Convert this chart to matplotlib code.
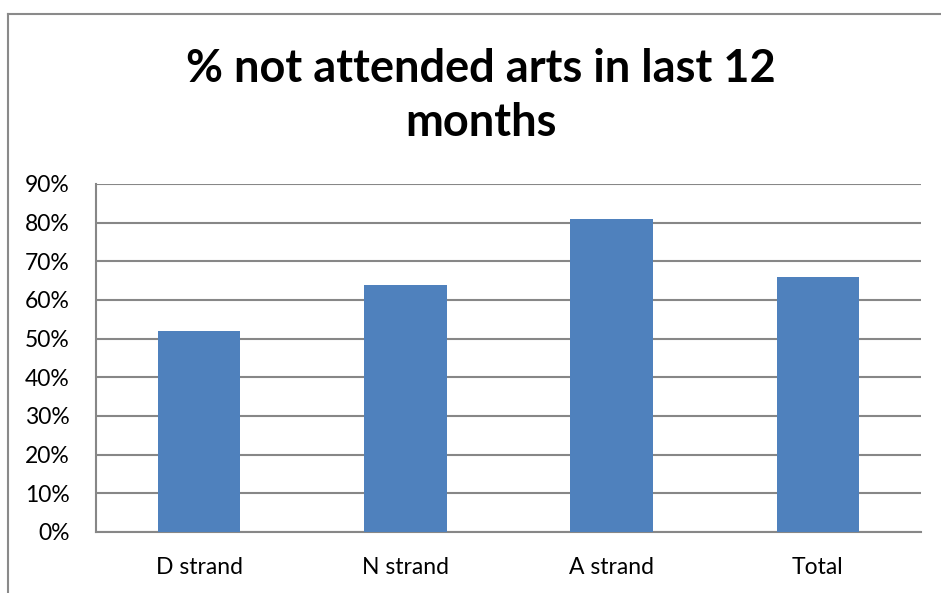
import matplotlib.pyplot as plt
from matplotlib.lines import Line2D

categories = ['D strand', 'N strand', 'A strand', 'Total']
values = [52, 64, 81, 66]
yticks = list(range(0, 91, 10))
ytick_labels = [f'{t}%' for t in yticks]

W, H = 941, 593
fig = plt.figure(figsize=(W / 100, H / 100), dpi=100)
plt.rcParams['font.family'] = ['Lato', 'DejaVu Sans']

# plot area in pixels: left 96, right 921, top 184, bottom 532
ax = fig.add_axes([96 / W, 1 - 532 / H, (921 - 96) / W, (532 - 184) / H])

grid_col = '#878787'
ax.bar(range(len(categories)), values, width=0.4, color='#4F81BD', zorder=3)
ax.set_xlim(-0.5, len(categories) - 0.5)
ax.set_ylim(0, 90)
ax.set_yticks(yticks)
ax.set_yticklabels(ytick_labels, fontsize=16.5)
ax.set_xticks(range(len(categories)))
ax.set_xticklabels(categories, fontsize=16.5)
ax.tick_params(axis='both', length=0)
ax.tick_params(axis='y', pad=19)
ax.tick_params(axis='x', pad=18)
ax.yaxis.grid(True, color=grid_col, linewidth=1.5, zorder=0)
for side in ['top', 'right']:
    ax.spines[side].set_visible(False)
for side in ['left', 'bottom']:
    ax.spines[side].set_color(grid_col)
    ax.spines[side].set_linewidth(1.5)

fig.text(481 / W, 1 - 96 / H, '% not attended arts in last 12\nmonths',
         ha='center', va='center', fontsize=32.5, fontweight='bold',
         linespacing=1.35)

# outer chart border (cropped on right and bottom)
fig.add_artist(Line2D([7.5 / W, 7.5 / W], [0, 1 - 13.5 / H], color='#8a8a8a', linewidth=1.5))
fig.add_artist(Line2D([7.5 / W, 1], [1 - 13.5 / H, 1 - 13.5 / H], color='#8a8a8a', linewidth=1.5))

fig.savefig('out.png', dpi=100)
